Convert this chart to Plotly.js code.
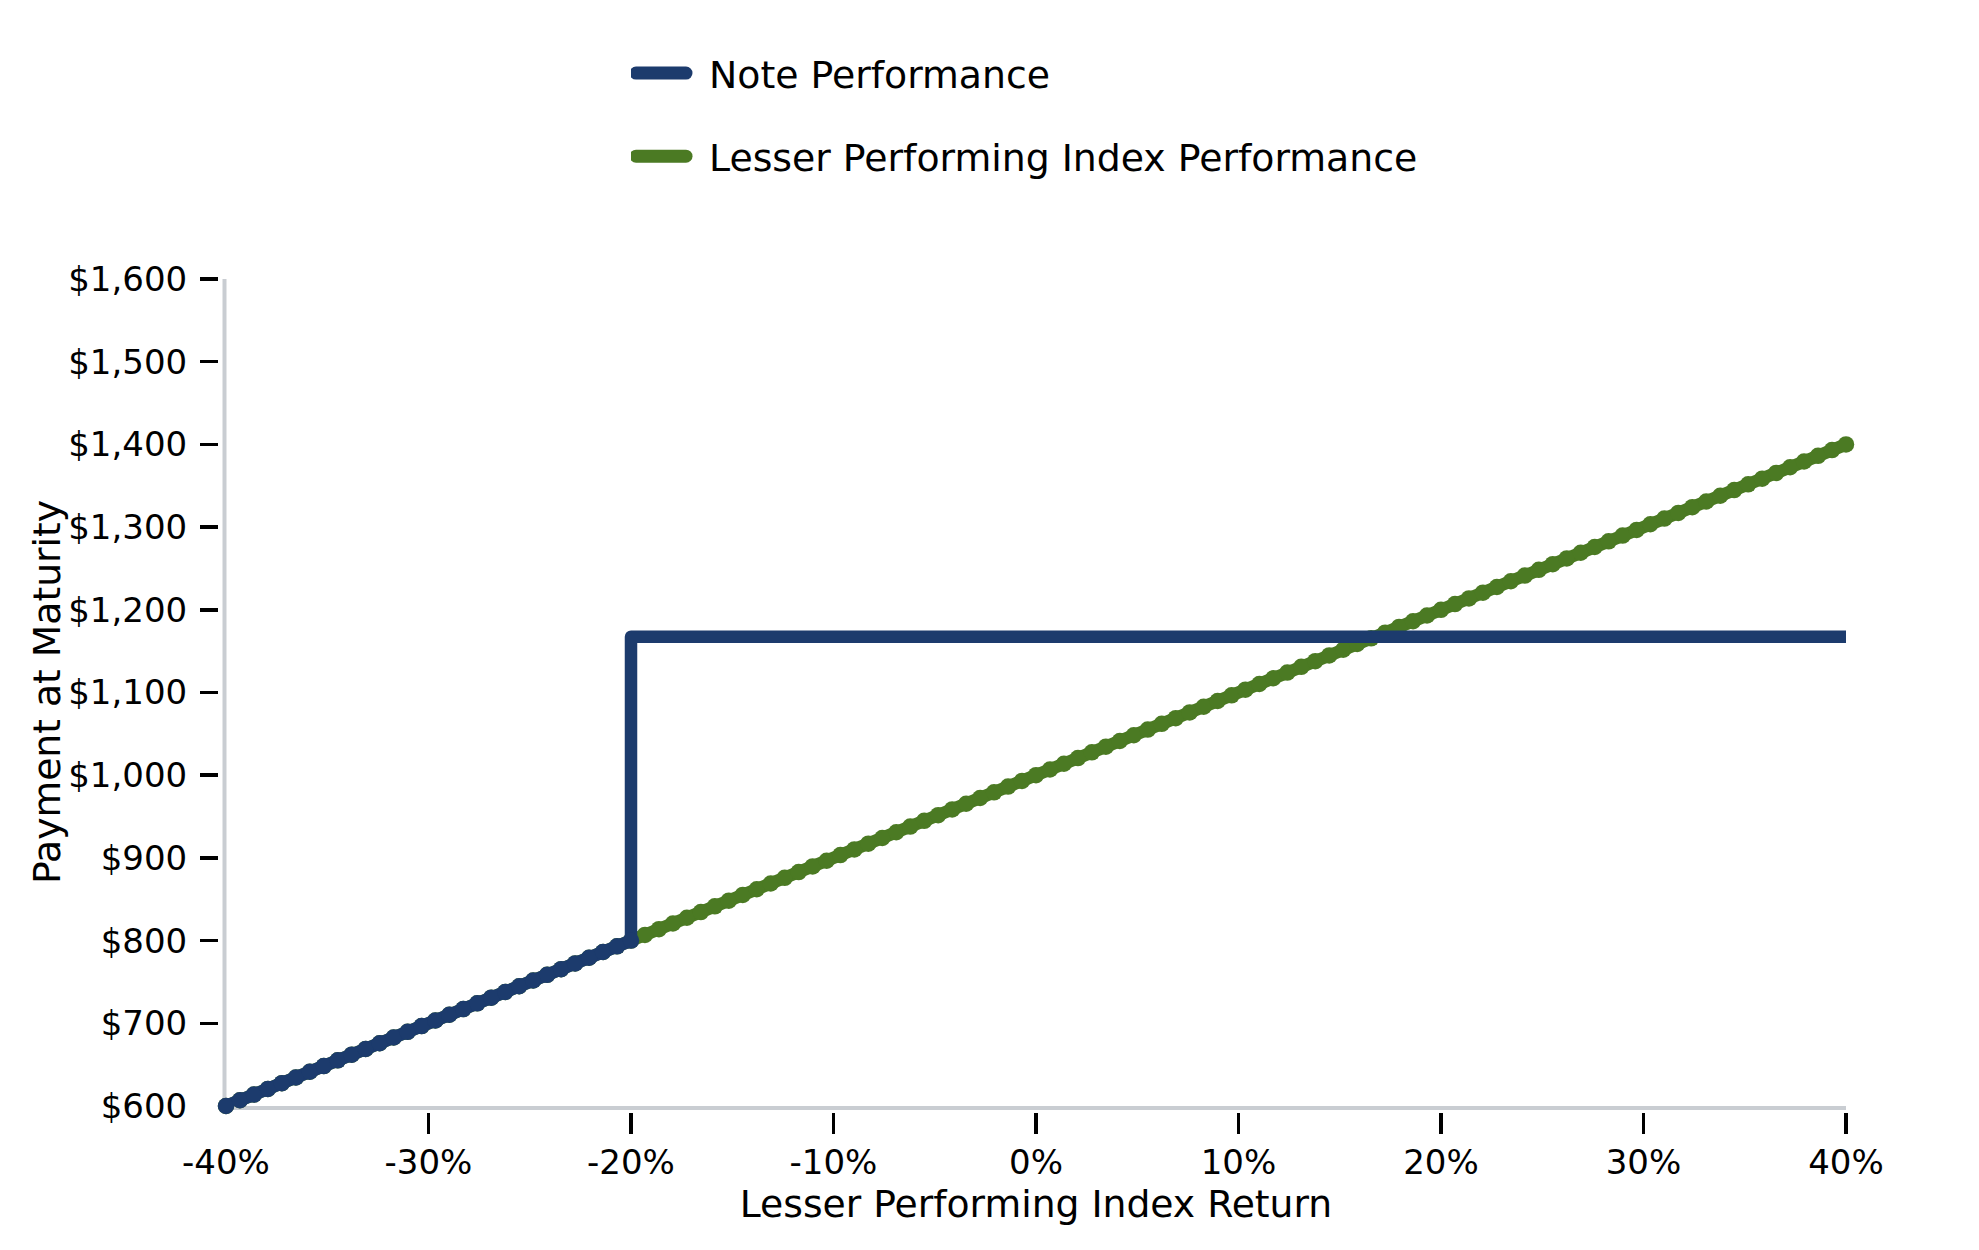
<!DOCTYPE html>
<html>
<head>
<meta charset="utf-8">
<script src="https://cdn.plot.ly/plotly-3.0.1.min.js"></script>
<style>
  html, body { margin: 0; padding: 0; background: #fff; }
  #chart { width: 1979px; height: 1250px; }
  .js-line, .legendlines path { stroke-linecap: round; stroke-linejoin: round; }
</style>
</head>
<body>
<div id="chart"></div>
<script>
// Lesser performing index return, in percent
var returnPct = [
    -40, -39.31, -38.62, -37.93, -37.24, -36.55, -35.86, -35.17, -34.48, -33.79,
    -33.10, -32.41, -31.72, -31.03, -30.34, -29.66, -28.97, -28.28, -27.59, -26.90,
    -26.21, -25.52, -24.83, -24.14, -23.45, -22.76, -22.07, -21.38, -20.69, -20,
    -19.31, -18.62, -17.93, -17.24, -16.55, -15.86, -15.17, -14.48, -13.79, -13.10,
    -12.41, -11.72, -11.03, -10.34, -9.66, -8.97, -8.28, -7.59, -6.90, -6.21,
    -5.52, -4.83, -4.14, -3.45, -2.76, -2.07, -1.38, -0.69, 0,
    0.69, 1.38, 2.07, 2.76, 3.45, 4.14, 4.83, 5.52, 6.21, 6.90,
    7.59, 8.28, 8.97, 9.66, 10.34, 11.03, 11.72, 12.41, 13.10, 13.79,
    14.48, 15.17, 15.86, 16.55, 17.24, 17.93, 18.62, 19.31, 20,
    20.69, 21.38, 22.07, 22.76, 23.45, 24.14, 24.83, 25.52, 26.21, 26.90,
    27.59, 28.28, 28.97, 29.66, 30.34, 31.03, 31.72, 32.41, 33.10, 33.79,
    34.48, 35.17, 35.86, 36.55, 37.24, 37.93, 38.62, 39.31, 40
];

// payment at maturity of a direct index investment
var indexPayment = [
    600, 606.9, 613.8, 620.7, 627.6, 634.5, 641.4, 648.3, 655.2, 662.1,
    669.0, 675.9, 682.8, 689.7, 696.6, 703.4, 710.3, 717.2, 724.1, 731.0,
    737.9, 744.8, 751.7, 758.6, 765.5, 772.4, 779.3, 786.2, 793.1, 800,
    806.9, 813.8, 820.7, 827.6, 834.5, 841.4, 848.3, 855.2, 862.1, 869.0,
    875.9, 882.8, 889.7, 896.6, 903.4, 910.3, 917.2, 924.1, 931.0, 937.9,
    944.8, 951.7, 958.6, 965.5, 972.4, 979.3, 986.2, 993.1, 1000,
    1006.9, 1013.8, 1020.7, 1027.6, 1034.5, 1041.4, 1048.3, 1055.2, 1062.1, 1069.0,
    1075.9, 1082.8, 1089.7, 1096.6, 1103.4, 1110.3, 1117.2, 1124.1, 1131.0, 1137.9,
    1144.8, 1151.7, 1158.6, 1165.5, 1172.4, 1179.3, 1186.2, 1193.1, 1200,
    1206.9, 1213.8, 1220.7, 1227.6, 1234.5, 1241.4, 1248.3, 1255.2, 1262.1, 1269.0,
    1275.9, 1282.8, 1289.7, 1296.6, 1303.4, 1310.3, 1317.2, 1324.1, 1331.0, 1337.9,
    1344.8, 1351.7, 1358.6, 1365.5, 1372.4, 1379.3, 1386.2, 1393.1, 1400
];

// note pays the capped amount once the barrier holds
var barrierPct = -20;
var capPct = [-20, 40];
var capPayment = [1167.5, 1167.5];

var xTickVals = [-40, -30, -20, -10, 0, 10, 20, 30, 40];
var xTickText = ['-40%', '-30%', '-20%', '-10%', '0%', '10%', '20%', '30%', '40%'];
var yTickVals = [600, 700, 800, 900, 1000, 1100, 1200, 1300, 1400, 1500, 1600];
var yTickText = ['$600', '$700', '$800', '$900', '$1,000', '$1,100', '$1,200', '$1,300', '$1,400', '$1,500', '$1,600'];

var NAVY = '#1c3b6d';
var GREEN = '#4b7a23';
var AXIS_GREY = '#c9cdd2';
var FONT = 'DejaVu Sans, Verdana, sans-serif';

var cut = returnPct.indexOf( barrierPct ) + 1;
var lossPct = returnPct.slice( 0, cut );
var lossPayment = indexPayment.slice( 0, cut );
var notePct = lossPct.concat( capPct );
var notePayment = lossPayment.concat( capPayment );

// note traces sit on the overlay axes, so they are painted above the index line
var data = [
    {
        name: 'Note Performance',
        legendgroup: 'note',
        xaxis: 'x2', yaxis: 'y2',
        x: notePct, y: notePayment,
        type: 'scatter', mode: 'lines',
        line: { color: NAVY, width: 12.5 },
        hoverinfo: 'skip'
    },
    {
        legendgroup: 'note', showlegend: false,
        xaxis: 'x2', yaxis: 'y2',
        x: lossPct, y: lossPayment,
        type: 'scatter', mode: 'markers',
        marker: { color: NAVY, size: 16.5 },
        cliponaxis: false,
        hoverinfo: 'skip'
    },
    {
        name: 'Lesser Performing Index Performance',
        legendgroup: 'index',
        x: returnPct, y: indexPayment,
        type: 'scatter', mode: 'lines',
        line: { color: GREEN, width: 12.5 },
        hoverinfo: 'skip'
    },
    {
        legendgroup: 'index', showlegend: false,
        x: returnPct, y: indexPayment,
        type: 'scatter', mode: 'markers',
        marker: { color: GREEN, size: 16.5 },
        cliponaxis: false,
        hoverinfo: 'skip'
    }
];

var W = 1979, H = 1250;
var ML = 218, MR = 133, MT = 279, MB = 138;
var plotW = W - ML - MR, plotH = H - MT - MB;
var xStart = ( 226 - ML ) / plotW;
var yStart = ( ( H - MB ) - 1106 ) / plotH;

var tickFont = { family: FONT, size: 34, color: '#000' };
var titleFont = { family: FONT, size: 37.7, color: '#000' };

var layout = {
    width: W, height: H,
    margin: { l: ML, r: MR, t: MT, b: MB, pad: 0, autoexpand: false },
    paper_bgcolor: '#fff', plot_bgcolor: '#fff',
    showlegend: true,
    legend: {
        xref: 'container', yref: 'container',
        x: 631 / W, xanchor: 'left',
        y: 1 - 42 / H, yanchor: 'top',
        traceorder: 'grouped',
        tracegroupgap: 31,
        itemwidth: 68,
        font: { family: FONT, size: 37.8, color: '#000' },
        bgcolor: 'rgba(0,0,0,0)', borderwidth: 0
    },
    // tick labels and x title (ticks themselves transparent)
    xaxis: {
        domain: [ xStart, 1 ], range: [ -40, 40 ], anchor: 'free', position: 0,
        tickmode: 'array', tickvals: xTickVals, ticktext: xTickText,
        ticks: 'outside', ticklen: 21, tickwidth: 3.5, tickcolor: 'rgba(0,0,0,0)',
        ticklabelstandoff: -1, tickangle: 0,
        tickfont: tickFont, showline: false, showgrid: false, zeroline: false, fixedrange: true,
        title: { text: 'Lesser Performing Index Return', font: titleFont, standoff: 1 }
    },
    yaxis: {
        domain: [ yStart, 1 ], range: [ 600, 1600 ], anchor: 'free', position: 0,
        tickmode: 'array', tickvals: yTickVals, ticktext: yTickText,
        ticks: 'outside', ticklen: 18, tickwidth: 3.5, tickcolor: 'rgba(0,0,0,0)',
        ticklabelstandoff: 6,
        tickfont: tickFont, showline: false, showgrid: false, zeroline: false, fixedrange: true
    },
    // visible tick marks, without the corner ones
    xaxis2: {
        overlaying: 'x', anchor: 'free', position: 0, range: [ -40, 40 ],
        tickmode: 'array', tickvals: xTickVals.slice( 1 ),
        ticks: 'outside', ticklen: 21, tickwidth: 3.5, tickcolor: '#000',
        showticklabels: false, showline: false, showgrid: false, zeroline: false, fixedrange: true
    },
    yaxis2: {
        overlaying: 'y', anchor: 'free', position: 0, range: [ 600, 1600 ],
        tickmode: 'array', tickvals: yTickVals.slice( 1 ),
        ticks: 'outside', ticklen: 18, tickwidth: 3.5, tickcolor: '#000',
        showticklabels: false, showline: false, showgrid: false, zeroline: false, fixedrange: true
    },
    annotations: [
        {
            text: 'Payment at Maturity', textangle: -90, showarrow: false,
            xref: 'paper', yref: 'paper',
            x: ( 47 - ML ) / plotW, xanchor: 'center',
            y: ( ( H - MB ) - 692 ) / plotH, yanchor: 'middle',
            font: titleFont
        }
    ],
    // grey frame along the plot edges
    shapes: [
        {
            type: 'line', xref: 'paper', yref: 'paper', layer: 'below',
            x0: ( 224.5 - ML ) / plotW, x1: 1, y0: yStart - 2 / plotH, y1: yStart - 2 / plotH,
            line: { color: AXIS_GREY, width: 4 }
        },
        {
            type: 'line', xref: 'paper', yref: 'paper', layer: 'below',
            x0: ( 224.5 - ML ) / plotW, x1: ( 224.5 - ML ) / plotW, y0: yStart - 4 / plotH, y1: 1,
            line: { color: AXIS_GREY, width: 4 }
        }
    ]
};

Plotly.newPlot( 'chart', data, layout, { staticPlot: true, displayModeBar: false } ).then( function ( gd ) {

    // legend swatches: a shorter, thicker round-capped stroke
    gd.querySelectorAll( '.legendlines path' ).forEach( function ( p ) {
        p.setAttribute( 'd', 'M5,0h50' );
        p.style.strokeWidth = '13px';
    });

});
</script>
</body>
</html>
